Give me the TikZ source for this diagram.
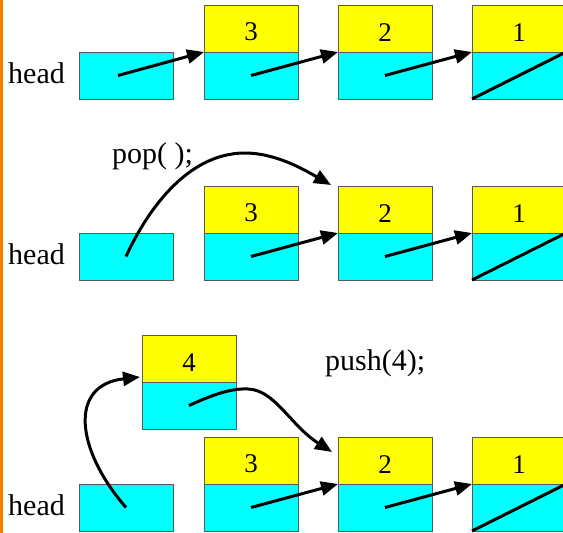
\documentclass[tikz,border=0pt]{standalone}
\usepackage{fontspec}
\setmainfont{Liberation Serif}
\usetikzlibrary{arrows.meta}
\definecolor{cellY}{RGB}{255,255,0}
\definecolor{cellC}{RGB}{0,255,255}
\definecolor{edgeO}{RGB}{240,128,0}
\begin{document}
\begin{tikzpicture}[x=1pt,y=-1pt,
  box/.style={draw=black!65, line width=1pt, minimum width=94pt, minimum height=47pt, inner sep=0pt, outer sep=0pt},
  data/.style={box, fill=cellY, font=\fontsize{27}{27}\selectfont, text height=25pt},
  link/.style={box, fill=cellC},
  ptr/.style={line width=3pt, -{Triangle[length=17pt,width=14pt]}},
  nil/.style={line width=3pt},
  lbl/.style={font=\fontsize{30}{30}\selectfont, inner sep=0pt, anchor=base west}
]
\clip (0,0) rectangle (563,533);
\fill[white] (0,0) rectangle (563,533);
\fill[edgeO] (0,0) rectangle (2.5,533);

% ---- row 1
\node[lbl] (t1) at (8,83) {head};
\node[link] (h1) at (126,75.5) {};
\node[data] (p3) at (251,28.5) {3};
\node[link] (q3) at (251,75.5) {};
\node[data] (p2) at (385,28.5) {2};
\node[link] (q2) at (385,75.5) {};
\node[data] (p1) at (519,28.5) {1};
\node[link] (q1) at (519,75.5) {};
\draw[ptr] ([xshift=-8pt]h1.center) -- (p3.south west);
\draw[ptr] (q3.center) -- (p2.south west);
\draw[ptr] (q2.center) -- (p1.south west);
\draw[nil] (q1.south west) -- (q1.north east);

% ---- row 2
\node[lbl] (op1) at (112,163) {pop( );};
\node[lbl] (t2) at (8,264) {head};
\node[link] (h2) at (126,256.5) {};
\node[data] (u3) at (251,209.5) {3};
\node[link] (v3) at (251,256.5) {};
\node[data] (u2) at (385,209.5) {2};
\node[link] (v2) at (385,256.5) {};
\node[data] (u1) at (519,209.5) {1};
\node[link] (v1) at (519,256.5) {};
\draw[ptr] (h2.center) .. controls (145,215) and (185,153) .. (245,153)
  .. controls (275,153) and (303,169) .. ([shift={(-7,-1)}]u2.north west);
\draw[ptr] (v3.center) -- (u2.south west);
\draw[ptr] (v2.center) -- (u1.south west);
\draw[nil] (v1.south west) -- (v1.north east);

% ---- row 3
\node[lbl] (op2) at (325,370) {push(4);};
\node[data] (r4) at (189,358.5) {4};
\node[link] (s4) at (189,405.5) {};
\node[lbl] (t3) at (8,515) {head};
\node[link] (h3) at (126,507.5) {};
\node[data] (r3) at (251,460.5) {3};
\node[link] (s3) at (251,507.5) {};
\node[data] (r2) at (385,460.5) {2};
\node[link] (s2) at (385,507.5) {};
\node[data] (r1) at (519,460.5) {1};
\node[link] (s1) at (519,507.5) {};
\draw[ptr] (h3.center) .. controls (76,450) and (68,385) .. ([shift={(-2,-5)}]s4.north west);
\draw[ptr] (s4.center) .. controls (210,396) and (230,388) .. (248,389)
  .. controls (275,390) and (290,425) .. ([shift={(-6,15)}]r2.north west);
\draw[ptr] (s3.center) -- (r2.south west);
\draw[ptr] (s2.center) -- (r1.south west);
\draw[nil] (s1.south west) -- (s1.north east);
\end{tikzpicture}
\end{document}
